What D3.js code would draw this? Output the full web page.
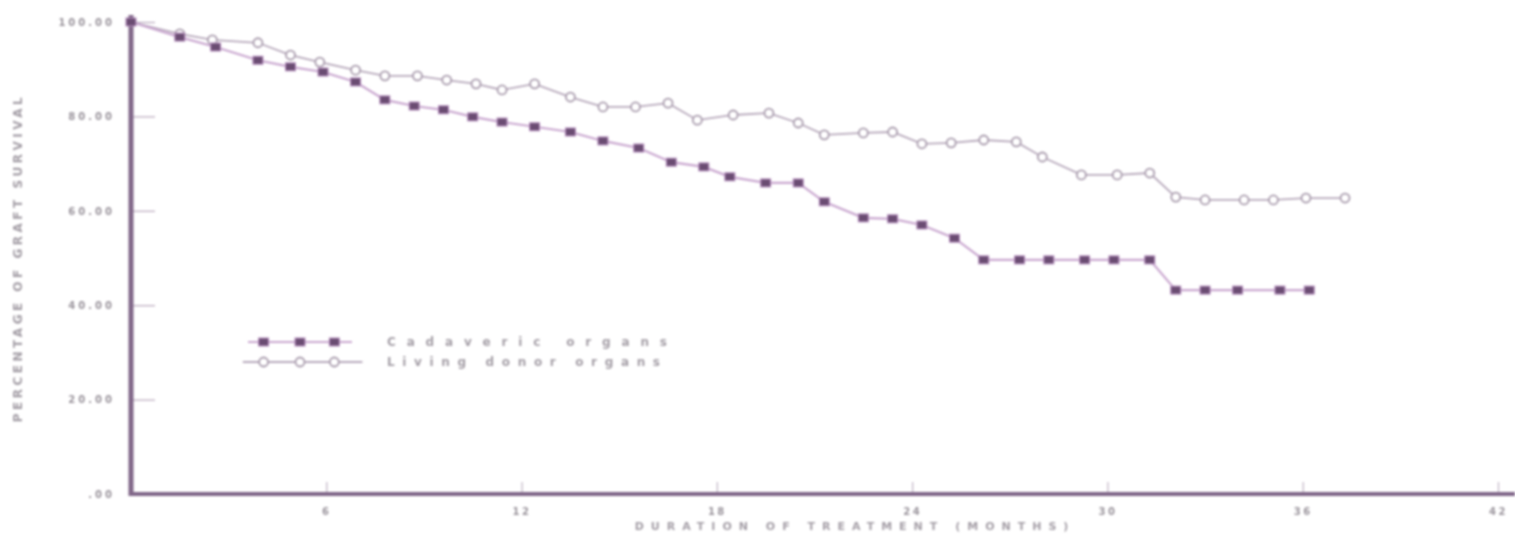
<!DOCTYPE html>
<html>
<head>
<meta charset="utf-8">
<script src="https://cdn.jsdelivr.net/npm/d3@7"></script>
<style>
  html, body { margin: 0; padding: 0; background: #ffffff; }
  svg { display: block; filter: blur(0.9px); }
  text { font-family: "DejaVu Sans", sans-serif; fill: #8e8890; }
</style>
</head>
<body>
<svg id="chart" width="1515" height="537"></svg>
<script>
// ---- data ----
const lowerMonths = [0, 1.5, 2.6, 3.9, 4.9, 5.9, 6.9, 7.8, 8.7, 9.6, 10.5, 11.4, 12.4, 13.5, 14.5, 15.6, 16.6, 17.6, 18.4, 19.5, 20.5, 21.3, 22.5, 23.4, 24.3, 25.3, 26.2, 27.3, 28.2, 29.3, 30.2, 31.3, 32.1, 33.0, 34.0, 35.3, 36.2];
const lowerValues = [100, 96.8, 94.7, 91.9, 90.5, 89.4, 87.3, 83.5, 82.2, 81.4, 79.9, 78.8, 77.8, 76.7, 74.8, 73.3, 70.3, 69.3, 67.2, 65.9, 65.9, 61.9, 58.5, 58.3, 57.0, 54.2, 49.6, 49.6, 49.6, 49.6, 49.6, 49.6, 43.2, 43.2, 43.2, 43.2, 43.2];
const upperMonths = [0, 1.5, 2.5, 3.9, 4.9, 5.8, 6.9, 7.8, 8.8, 9.7, 10.6, 11.4, 12.4, 13.5, 14.5, 15.5, 16.5, 17.4, 18.5, 19.6, 20.5, 21.3, 22.5, 23.4, 24.3, 25.2, 26.2, 27.2, 28.0, 29.2, 30.3, 31.3, 32.1, 33.0, 34.2, 35.1, 36.1, 37.3];
const upperValues = [100, 97.5, 96.2, 95.6, 93.0, 91.5, 89.8, 88.6, 88.6, 87.7, 86.9, 85.6, 86.9, 84.1, 82.0, 82.0, 82.8, 79.2, 80.3, 80.7, 78.6, 76.1, 76.5, 76.7, 74.2, 74.4, 75.0, 74.6, 71.4, 67.6, 67.6, 68.0, 62.9, 62.3, 62.3, 62.3, 62.7, 62.7];
const seriesNames = ["Cadaveric organs", "Living donor organs"];
const yTicks = [0, 20, 40, 60, 80, 100];
const xTicks = [6, 12, 18, 24, 30, 36, 42];
const xTitle = "DURATION OF TREATMENT (MONTHS)";
const yTitle = "PERCENTAGE OF GRAFT SURVIVAL";

// ---- layout ----
const svg = d3.select("#chart");
const x = d3.scaleLinear().domain([0, 42]).range([131, 1498]);
const y = d3.scaleLinear().domain([0, 100]).range([494, 22]);

const axisColor = "#806688";

// y axis
const yAxis = d3.axisLeft(y)
  .tickValues(yTicks)
  .tickSizeInner(-24)
  .tickSizeOuter(0)
  .tickPadding(16)
  .tickFormat(d => d === 0 ? ".00" : d3.format(".2f")(d));
const gy = svg.append("g").attr("transform", `translate(${x(0)},0)`).call(yAxis);
gy.select(".domain").remove();
gy.selectAll(".tick line").attr("stroke", "#b8a8bc").attr("stroke-width", 1.2);
gy.selectAll(".tick text").attr("font-size", 10).attr("font-weight", "bold")
  .attr("letter-spacing", 3).style("fill", "#9a949c");

// x axis
const xAxis = d3.axisBottom(x)
  .tickValues(xTicks)
  .tickSizeInner(-12)
  .tickSizeOuter(0)
  .tickPadding(14)
  .tickFormat(d3.format("d"));
const gx = svg.append("g").attr("transform", `translate(0,${y(0)})`).call(xAxis);
gx.select(".domain").remove();
gx.selectAll(".tick line").attr("stroke", "#c0b4c4").attr("stroke-width", 1.2);
gx.selectAll(".tick text").attr("font-size", 10).attr("font-weight", "bold")
  .attr("letter-spacing", 2.5).style("fill", "#9a949c");

// thick axis lines
svg.append("line")
  .attr("x1", x(0)).attr("x2", x(0))
  .attr("y1", y(101.5)).attr("y2", y(0) + 2)
  .attr("stroke", axisColor).attr("stroke-width", 5);
svg.append("line")
  .attr("x1", x(0) - 2).attr("x2", 1515)
  .attr("y1", y(0)).attr("y2", y(0))
  .attr("stroke", axisColor).attr("stroke-width", 4);

// titles
svg.append("text")
  .attr("x", 855).attr("y", 530)
  .attr("text-anchor", "middle")
  .attr("font-size", 11).attr("font-weight", "bold").attr("letter-spacing", 7)
  .style("fill", "#a49ea6")
  .text(xTitle);
svg.append("text")
  .attr("transform", `translate(22,${y(50)}) rotate(-90)`)
  .attr("text-anchor", "middle")
  .attr("font-size", 12).attr("font-weight", "bold").attr("letter-spacing", 3.5)
  .style("fill", "#a49ea6")
  .text(yTitle);

// lines
const lineGen = d3.line().x(d => x(d[0])).y(d => y(d[1]));
const lowerData = lowerMonths.map((m, i) => [m, lowerValues[i]]);
const upperData = upperMonths.map((m, i) => [m, upperValues[i]]);

svg.append("path").datum(upperData).attr("d", lineGen)
  .attr("fill", "none").attr("stroke", "#b8aabc").attr("stroke-width", 1.8);
svg.append("path").datum(lowerData).attr("d", lineGen)
  .attr("fill", "none").attr("stroke", "#caa8d0").attr("stroke-width", 2.2);

// upper markers: open circles
svg.append("g").selectAll("circle").data(upperData.slice(1)).join("circle")
  .attr("cx", d => x(d[0])).attr("cy", d => y(d[1])).attr("r", 4.5)
  .attr("fill", "#ffffff").attr("stroke", "#a99cad").attr("stroke-width", 1.8);

// lower markers: filled squares
svg.append("g").selectAll("rect").data(lowerData).join("rect")
  .attr("x", d => x(d[0]) - 5).attr("y", d => y(d[1]) - 4)
  .attr("width", 10).attr("height", 8)
  .attr("fill", "#6a4c72").attr("stroke", "#b890c0").attr("stroke-width", 1);

// legend
const legendX = d3.scaleLinear().domain([0, 1]).range([248, 352]);
const legendRows = [342, 362];
svg.append("line").attr("x1", legendX(0)).attr("x2", legendX(1))
  .attr("y1", legendRows[0]).attr("y2", legendRows[0])
  .attr("stroke", "#caa8d0").attr("stroke-width", 2.2);
svg.append("g").selectAll("rect").data([0.15, 0.5, 0.83]).join("rect")
  .attr("x", d => legendX(d) - 5).attr("y", legendRows[0] - 4)
  .attr("width", 10).attr("height", 8)
  .attr("fill", "#6a4c72").attr("stroke", "#b890c0").attr("stroke-width", 1);
svg.append("line").attr("x1", legendX(-0.05)).attr("x2", legendX(1.1))
  .attr("y1", legendRows[1]).attr("y2", legendRows[1])
  .attr("stroke", "#b8aabc").attr("stroke-width", 1.8);
svg.append("g").selectAll("circle").data([0.15, 0.5, 0.83]).join("circle")
  .attr("cx", d => legendX(d)).attr("cy", legendRows[1]).attr("r", 4.5)
  .attr("fill", "#ffffff").attr("stroke", "#a99cad").attr("stroke-width", 1.8);

svg.append("g").selectAll("text").data(seriesNames).join("text")
  .attr("x", 387).attr("y", (d, i) => legendRows[i] + 4)
  .attr("font-size", 12).attr("font-weight", "bold")
  .attr("textLength", (d, i) => i === 0 ? 280 : 273)
  .attr("lengthAdjust", "spacing")
  .style("fill", "#a49ea6")
  .text(d => d);
</script>
</body>
</html>
